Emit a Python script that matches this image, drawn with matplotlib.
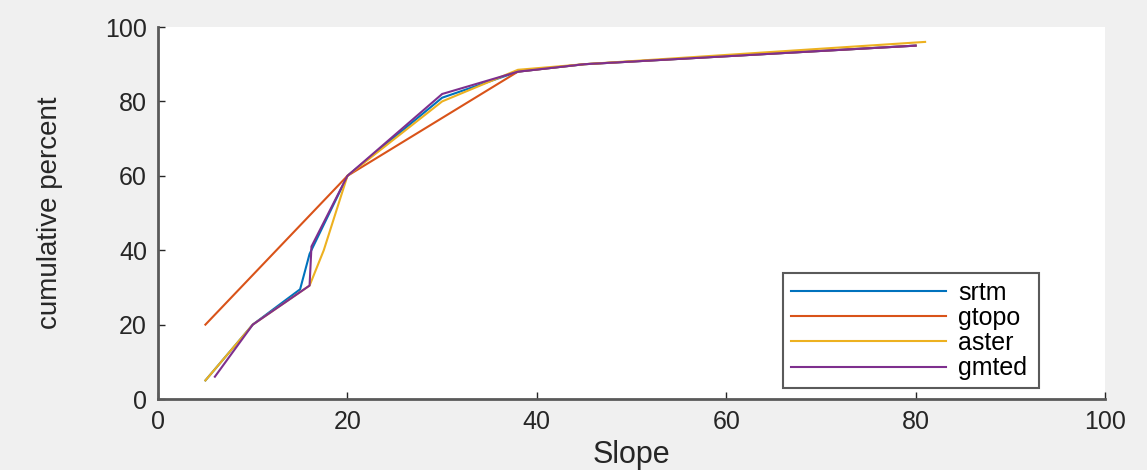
import numpy as np
import matplotlib.pyplot as plt

plt.rcParams['font.family'] = ['Liberation Sans', 'DejaVu Sans']

srtm_x = [5, 10, 15, 16, 20, 30, 38, 45, 80]
srtm_y = [5, 20, 29.5, 39, 60, 81, 88, 90, 95]

gtopo_x = [5, 20, 38, 45, 80]
gtopo_y = [20, 60, 88, 90, 95]

aster_x = [5, 10, 16, 17.5, 20, 30, 38, 45, 81]
aster_y = [5, 20, 30.5, 40, 60, 80, 88.5, 90, 96]

gmted_x = [6, 10, 16, 16.2, 20, 30, 38, 45, 80]
gmted_y = [6, 20, 30.5, 41, 60, 82, 88, 90, 95]

names = ['srtm', 'gtopo', 'aster', 'gmted']
colors = ['#0072BD', '#D95319', '#EDB120', '#7E2F8E']

fig = plt.figure(figsize=(11.47, 4.70), dpi=100, facecolor='#f0f0f0')
ax = fig.add_axes([0.1378, 0.151, 0.8256, 0.7915])
ax.set_facecolor('white')

series = [(srtm_x, srtm_y), (gtopo_x, gtopo_y), (aster_x, aster_y), (gmted_x, gmted_y)]
for (x, y), name, c in zip(series, names, colors):
    ax.plot(x, y, color=c, lw=1.5, label=name)

ax.set_xlim(0, 100)
ax.set_ylim(0, 100)
ax.set_xticks(np.arange(0, 101, 20))
ax.set_yticks(np.arange(0, 101, 20))
ax.tick_params(direction='in', labelsize=18, colors='#262626', length=5, width=1, pad=8)
for s in ['top', 'right']:
    ax.spines[s].set_visible(False)
for s in ['left', 'bottom']:
    ax.spines[s].set_color('#5a5a5a')
    ax.spines[s].set_linewidth(2)

ax.set_xlabel('Slope', fontsize=22, color='#262626', labelpad=4)
ax.set_ylabel('cumulative percent', fontsize=20, color='#262626', labelpad=30)

leg = ax.legend(loc='lower left', bbox_to_anchor=(0.66, 0.03, 0.27, 0.32), mode='expand',
                fontsize=18, fancybox=False, framealpha=1, edgecolor='#5a5a5a',
                handlelength=6.2, handletextpad=0.5, labelspacing=0.05,
                borderaxespad=0, borderpad=0.3)
leg.get_frame().set_linewidth(1.5)

fig.savefig('out.png', dpi=100, facecolor=fig.get_facecolor())
